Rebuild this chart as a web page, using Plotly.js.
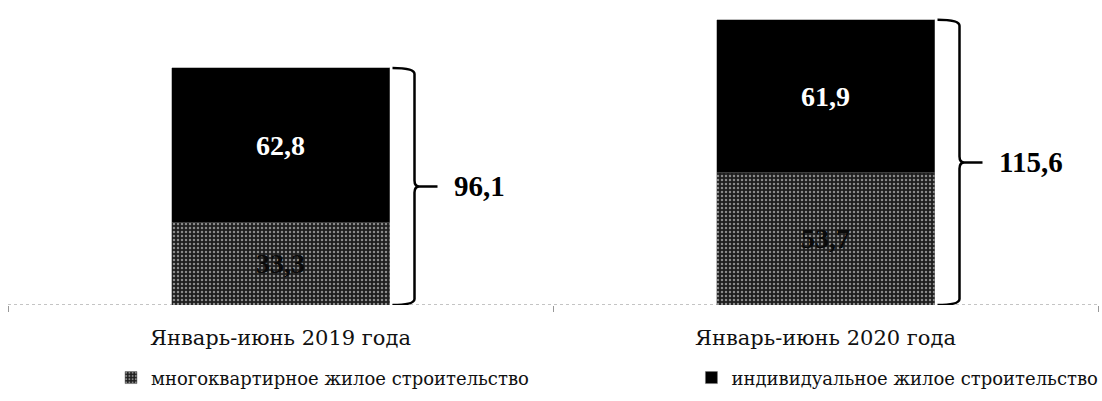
<!DOCTYPE html>
<html>
<head>
<meta charset="utf-8">
<script src="https://cdn.plot.ly/plotly-3.0.1.min.js"></script>
<style>html,body{margin:0;padding:0;background:#fff;}#chart{width:1102px;height:401px;}</style>
</head>
<body>
<div id="chart"></div>
<script>
const categories = ["Январь-июнь 2019 года", "Январь-июнь 2020 года"];
const multiApartment = [33.3, 53.7];
const individual = [62.8, 61.9];
const totals = [96.1, 115.6];
const seriesNames = ["многоквартирное жилое строительство", "индивидуальное жилое строительство"];
const totalLabels = ["96,1", "115,6"];

const fmt = v => v.toFixed(1).replace('.', ',');

const W = 1102, H = 401;
const margin = {l: 8, r: 4, t: 10, b: 96, autoexpand: false};
const plotW = W - margin.l - margin.r;
const plotH = H - margin.t - margin.b;
const yMax = 119.6;
const barWidth = 0.4;
const pxX = p => p / plotW;          // pixels -> paper x
const pxY = p => p * yMax / plotH;   // pixels -> data y

const serif = "Liberation Serif, Times New Roman, serif";
const labelFont = "DejaVu Serif, serif";

const traces = [
  {
    type: 'bar', x: categories, y: multiApartment, name: seriesNames[0],
    width: barWidth, legend: 'legend',
    marker: {color: '#1e1e1e', line: {color: '#777', width: 0.5},
             pattern: {shape: '.', fgcolor: '#8a8a8a', bgcolor: '#1e1e1e', size: 4, solidity: 0.3}},
    text: multiApartment.map(fmt), textposition: 'inside', insidetextanchor: 'middle',
    textfont: {family: serif, size: 28, color: '#0a0a0a', weight: 'bold'},
    hoverinfo: 'none'
  },
  {
    type: 'bar', x: categories, y: individual, name: seriesNames[1],
    width: barWidth, legend: 'legend2',
    marker: {color: '#000', line: {color: '#777', width: 0.5}},
    text: individual.map(fmt), textposition: 'inside', insidetextanchor: 'middle',
    textfont: {family: serif, size: 28, color: '#fff', weight: 'bold'},
    hoverinfo: 'none'
  }
];

const shapes = [];
const annotations = [];
totals.forEach((tot, i) => {
  const cx = (i + 0.5) / categories.length;
  const edge = cx + barWidth / (2 * categories.length);
  const xe = edge + pxX(3), xv = edge + pxX(25), xt = edge + pxX(30), xl = edge + pxX(48);
  const ry = pxY(6);
  const mid = tot / 2;
  const path = `M ${xe},${tot} Q ${xv},${tot} ${xv},${tot - ry} L ${xv},${mid + ry} Q ${xv},${mid} ${xt},${mid} ` +
               `Q ${xv},${mid} ${xv},${mid - ry} L ${xv},${ry} Q ${xv},0 ${xe},0 M ${xt},${mid} L ${xl},${mid}`;
  shapes.push({type: 'path', xref: 'paper', yref: 'y', path: path, line: {color: '#000', width: 2.5}});
  annotations.push({xref: 'paper', yref: 'y', x: xl + pxX(14), y: mid, xanchor: 'left', yanchor: 'middle',
    text: '<b>' + totalLabels[i] + '</b>', showarrow: false, font: {family: serif, size: 29, color: '#000'}});
});
// dotted baseline
shapes.push({type: 'line', xref: 'paper', yref: 'y', x0: 0, x1: 1, y0: 0, y1: 0,
  line: {color: '#888', width: 1, dash: 'dot'}, layer: 'below'});

const legendCommon = {orientation: 'h', xanchor: 'left', y: -0.247, yanchor: 'middle',
  font: {family: labelFont, size: 18, color: '#111'}, itemwidth: 30, bgcolor: 'rgba(0,0,0,0)'};

const layout = {
  width: W, height: H, margin: margin,
  paper_bgcolor: '#fff', plot_bgcolor: '#fff',
  barmode: 'stack', showlegend: true,
  font: {family: labelFont, color: '#111'},
  xaxis: {type: 'category', showgrid: false, zeroline: false, showline: false, automargin: false,
    ticks: 'outside', tickson: 'boundaries', ticklen: 6, tickcolor: '#999', tickwidth: 1,
    ticklabelstandoff: 18,
    tickfont: {family: labelFont, size: 21, color: '#111'}},
  yaxis: {range: [0, yMax], visible: false, fixedrange: true},
  legend: Object.assign({x: 0.0945}, legendCommon),
  legend2: Object.assign({x: 0.627}, legendCommon),
  shapes: shapes, annotations: annotations
};

Plotly.newPlot('chart', traces, layout, {displayModeBar: false, staticPlot: true});
</script>
</body>
</html>
